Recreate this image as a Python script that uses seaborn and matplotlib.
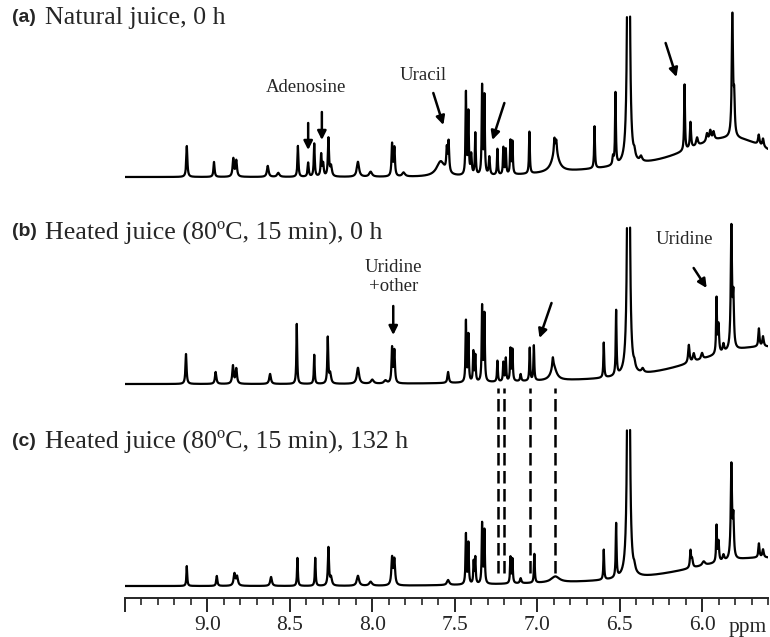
"""
1H NMR aromatic region of juice samples (stacked spectra)
"""

import numpy as np
import pandas as pd
import matplotlib
matplotlib.use('Agg')
import matplotlib.pyplot as plt
import matplotlib.transforms as mtransforms
import seaborn as sns

# ppm window shown (reversed axis, as usual for NMR)
ppm_left = 9.5
ppm_right = 5.6

# ---- (a) natural juice, 0 h : peak position (ppm), height, half width
a_ppm = [9.125, 8.960, 8.843, 8.825, 8.634, 8.570, 8.451, 8.389, 8.352, 8.310,
         8.298, 8.266, 8.250, 8.087, 8.010, 7.880, 7.866, 7.810, 7.585, 7.548,
         7.537, 7.432, 7.417, 7.400, 7.375, 7.334, 7.320, 7.290, 7.241, 7.205,
         7.190, 7.162, 7.150, 7.047, 6.890, 6.895, 6.884, 6.652, 6.540, 6.525,
         6.446, 6.410, 6.370, 6.106, 6.070, 6.030, 5.970, 5.950, 5.930, 5.816,
         5.805, 5.656, 5.630]
a_height = [31, 15, 18, 16, 11, 4, 31, 14, 33, 22,
            12, 38, 10, 15, 5, 32, 28, 4, 15, 22,
            30, 82, 62, 20, 42, 88, 78, 18, 26, 27,
            25, 33, 32, 42, 20, 14, 12, 42, 8, 72,
            1000, 6, 5, 66, 26, 8, 8, 10, 8, 122,
            35, 10, 8]
a_width = [.004, .004, .005, .005, .006, .008, .0035, .004, .0035, .004,
           .004, .004, .006, .008, .010, .004, .004, .010, .030, .004,
           .004, .003, .003, .004, .003, .003, .003, .004, .003, .003,
           .003, .003, .003, .003, .025, .004, .004, .003, .004, .003,
           .004, .006, .008, .003, .004, .006, .006, .006, .006, .0045,
           .004, .005, .005]
a_hump_ppm = [5.80, 6.20]
a_hump_height = [30, 12]
a_hump_sigma = [0.25, 0.50]

# ---- (b) heated juice (80 C, 15 min), 0 h
b_ppm = [9.130, 8.950, 8.845, 8.825, 8.620, 8.458, 8.352, 8.270, 8.255, 8.087,
         8.000, 7.920, 7.880, 7.866, 7.540, 7.432, 7.417, 7.387, 7.375, 7.334,
         7.320, 7.241, 7.205, 7.190, 7.162, 7.150, 7.100, 7.045, 7.020, 6.900,
         6.905, 6.596, 6.521, 6.446, 6.410, 6.360, 6.080, 6.050, 6.000, 5.912,
         5.900, 5.870, 5.822, 5.810, 5.655, 5.630]
b_height = [30, 12, 18, 15, 10, 60, 29, 46, 10, 16,
            4, 3, 35, 32, 11, 61, 47, 30, 26, 75,
            67, 21, 19, 23, 32, 31, 7, 33, 35, 14,
            10, 35, 65, 1000, 5, 4, 18, 8, 6, 55,
            28, 8, 122, 48, 18, 10]
b_width = [.004, .005, .005, .005, .006, .003, .003, .0035, .006, .008,
           .010, .010, .004, .004, .005, .003, .003, .003, .003, .003,
           .003, .003, .003, .003, .003, .003, .004, .003, .003, .020,
           .004, .003, .003, .004, .006, .008, .005, .006, .006, .003,
           .004, .005, .0045, .004, .004, .005]
b_hump_ppm = [5.60, 6.50]
b_hump_height = [36, 4]
b_hump_sigma = [0.40, 0.60]

# ---- (c) heated juice (80 C, 15 min), 132 h
c_ppm = [9.125, 8.943, 8.836, 8.820, 8.614, 8.454, 8.346, 8.266, 8.250, 8.087,
         8.010, 7.880, 7.866, 7.540, 7.432, 7.417, 7.385, 7.375, 7.334, 7.320,
         7.162, 7.150, 7.100, 7.017, 6.890, 6.596, 6.521, 6.446, 6.410, 6.070,
         6.060, 5.990, 5.912, 5.900, 5.870, 5.822, 5.810, 5.655, 5.630]
c_height = [20, 10, 12, 9, 9, 28, 28, 38, 8, 10,
            4, 27, 25, 5, 50, 41, 22, 26, 60, 53,
            26, 24, 5, 29, 6, 30, 54, 1000, 5, 17,
            8, 4, 36, 20, 6, 94, 38, 14, 8]
c_width = [.003, .004, .006, .006, .006, .003, .003, .004, .006, .008,
           .010, .005, .005, .008, .003, .003, .003, .003, .003, .003,
           .003, .003, .005, .003, .030, .003, .003, .004, .006, .004,
           .005, .010, .003, .004, .006, .0045, .004, .004, .005]
c_hump_ppm = [5.60, 6.50]
c_hump_height = [27, 4]
c_hump_sigma = [0.42, 0.60]

# shifts marked with the dashed guide lines
guide_ppm = [7.239, 7.199, 7.041, 6.889]

# layout: vertical offset of each trace and clipping height of the big peak
offsets = {'a': 421, 'b': 214, 'c': 12}
clip_height = 165


def build_trace(name, ppm, height, width, hump_ppm, hump_height, hump_sigma, grid):
    """Sum of Lorentzian lines on a smooth baseline, clipped like the original."""
    y = np.zeros_like(grid)
    for p, h, w in zip(ppm, height, width):
        y += h * w**2 / ((grid - p)**2 + w**2)
    for p, h, s in zip(hump_ppm, hump_height, hump_sigma):
        y += h * np.exp(-(grid - p)**2 / (2 * s**2))
    over = y > clip_height
    # split into separate line pieces where the tall peak is cut off
    seg = np.cumsum(np.diff(np.concatenate([[False], over])) != 0)
    df = pd.DataFrame({'ppm': grid, 'intensity': y + offsets[name],
                       'spectrum': name, 'seg': seg})
    return df[~over]


grid = np.arange(ppm_right, ppm_left + 0.0002, 0.0004)
spectra = pd.concat([
    build_trace('a', a_ppm, a_height, a_width, a_hump_ppm, a_hump_height, a_hump_sigma, grid),
    build_trace('b', b_ppm, b_height, b_width, b_hump_ppm, b_hump_height, b_hump_sigma, grid),
    build_trace('c', c_ppm, c_height, c_width, c_hump_ppm, c_hump_height, c_hump_sigma, grid),
], ignore_index=True)

sns.set_style('ticks')
plt.rcParams['font.family'] = ['Liberation Serif', 'DejaVu Serif']

W, H = 770, 637
fig = plt.figure(figsize=(W / 100, H / 100), dpi=100)
ax = fig.add_axes([125 / W, 39 / H, 643 / W, 598 / H])

sns.lineplot(data=spectra, x='ppm', y='intensity', hue='spectrum', units='seg',
             estimator=None, sort=True, palette=['black'] * 3, legend=False,
             linewidth=1.6, ax=ax)

for p in guide_ppm:
    ax.plot([p, p], [25, 210], color='black', lw=1.8, dashes=(5, 2.2))

ax.set_xlim(ppm_left, ppm_right)
ax.set_ylim(0, 598)
ax.set_xlabel('')
ax.set_ylabel('')
ax.set_yticks([])
for side in ['left', 'right', 'top']:
    ax.spines[side].set_visible(False)
ax.spines['bottom'].set_linewidth(1.4)

major = [9.5, 9.0, 8.5, 8.0, 7.5, 7.0, 6.5, 6.0]
ax.set_xticks(major)
ax.set_xticklabels([''] + [f'{m:.1f}' for m in major[1:]], fontsize=15.5)
ax.set_xticks(np.round(np.arange(5.6, 9.45, 0.1), 1), minor=True)
ax.tick_params(axis='x', which='major', direction='out', length=10, width=1.4, pad=3)
ax.tick_params(axis='x', which='minor', direction='out', length=5, width=1.2)

trans = mtransforms.blended_transform_factory(ax.transData, ax.transAxes)
ax.text(5.72, -0.049, 'ppm', transform=trans, fontsize=15.5, ha='center', va='center')

# panel titles: bold sans letter, serif description
titles = [('(a)', 'Natural juice, 0 h', 18),
          ('(b)', 'Heated juice (80ºC, 15 min), 0 h', 232),
          ('(c)', 'Heated juice (80ºC, 15 min), 132 h', 441)]
for tag, desc, ypx in titles:
    fig.text(12 / W, 1 - ypx / H, tag, family=['Liberation Sans'], fontweight='bold',
             fontsize=14, va='center')
    fig.text(45 / W, 1 - ypx / H, desc, fontsize=18.7, va='center')

# compound labels and arrows
arrow = dict(arrowstyle='-|>', color='black', lw=1.8, mutation_scale=13,
             shrinkA=0, shrinkB=0)
ax.text(8.401, 510, 'Adenosine', fontsize=13.5, ha='center', va='center')
ax.annotate('', xy=(8.389, 448), xytext=(8.389, 475), arrowprops=arrow)
ax.annotate('', xy=(8.306, 458), xytext=(8.306, 486), arrowprops=arrow)
ax.text(7.691, 523, 'Uracil', fontsize=13.5, ha='center', va='center')
ax.annotate('', xy=(7.569, 473), xytext=(7.630, 505), arrowprops=arrow)
ax.annotate('', xy=(7.272, 458), xytext=(7.199, 495), arrowprops=arrow)
ax.annotate('', xy=(6.155, 521), xytext=(6.221, 555), arrowprops=arrow)

ax.text(7.873, 321, 'Uridine\n+other', fontsize=13.5, ha='center', va='center',
        linespacing=1.15)
ax.annotate('', xy=(7.873, 263), xytext=(7.873, 292), arrowprops=arrow)
ax.annotate('', xy=(6.986, 260), xytext=(6.913, 295), arrowprops=arrow)
ax.text(6.106, 359, 'Uridine', fontsize=13.5, ha='center', va='center')
ax.annotate('', xy=(5.972, 310), xytext=(6.051, 330), arrowprops=arrow)

fig.savefig('out.png', dpi=100)
